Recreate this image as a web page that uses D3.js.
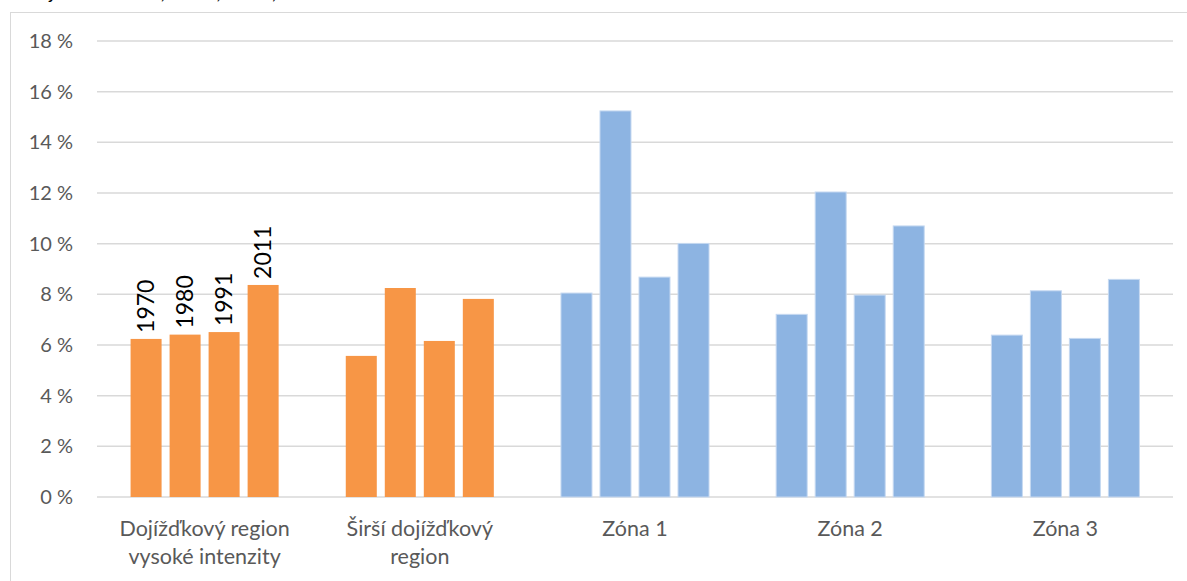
<!DOCTYPE html>
<html>
<head>
<meta charset="utf-8">
<script src="https://cdn.jsdelivr.net/npm/d3@7"></script>
<style>
  body { margin: 0; background: #fff; }
  svg { display: block; font-family: Lato, "Open Sans", sans-serif; }
</style>
</head>
<body>
<svg width="1187" height="581"></svg>
<script>
// data (percent)
var categories = ["Dojížďkový region\nvysoké intenzity", "Širší dojížďkový\nregion", "Zóna 1", "Zóna 2", "Zóna 3"];
var years = ["1970", "1980", "1991", "2011"];
var values = [
    [6.24, 6.41, 6.51, 8.37],
    [5.57, 8.25, 6.16, 7.82],
    [8.05, 15.24, 8.68, 10.01],
    [7.21, 12.04, 7.97, 10.70],
    [6.39, 8.14, 6.26, 8.59]
];
var groupColors = ["#F79646", "#F79646", "#8DB4E2", "#8DB4E2", "#8DB4E2"];
var yTicks = [0, 2, 4, 6, 8, 10, 12, 14, 16, 18];

var svg = d3.select("svg");

// cut-off source line at the very top
svg.append("text")
    .attr("x", 12).attr("y", -1.5)
    .attr("font-size", 20)
    .attr("font-style", "italic")
    .attr("fill", "#000")
    .text("Zdroj: SLDB 1970, 1980, 1991, 2011");

// chart frame
svg.append("rect")
    .attr("x", 10.5).attr("y", 12.5)
    .attr("width", 1190).attr("height", 600)
    .attr("fill", "none")
    .attr("stroke", "#D9D9D9")
    .attr("stroke-width", 1);

var x0 = d3.scaleBand()
    .domain(d3.range(categories.length))
    .range([97, 1173])
    .paddingInner(0.312)
    .paddingOuter(0.156);

var x1 = d3.scaleBand()
    .domain(years)
    .range([0, x0.bandwidth()])
    .paddingInner(0.205);

var y = d3.scaleLinear()
    .domain([0, 18])
    .range([497, 41]);

// gridlines
svg.append("g").selectAll("line")
    .data(yTicks)
    .enter().append("line")
    .attr("x1", 97).attr("x2", 1173)
    .attr("y1", function(d) { return y(d); })
    .attr("y2", function(d) { return y(d); })
    .attr("stroke", "#D9D9D9")
    .attr("stroke-width", 1.5);

// y axis labels
svg.append("g").selectAll("text")
    .data(yTicks)
    .enter().append("text")
    .attr("x", 73)
    .attr("y", function(d) { return y(d); })
    .attr("dy", "0.35em")
    .attr("text-anchor", "end")
    .attr("font-size", 20)
    .attr("fill", "#595959")
    .text(function(d) { return d + "\u00a0%"; });

// bars
var group = svg.append("g").selectAll("g")
    .data(values)
    .enter().append("g")
    .attr("transform", function(d, i) { return "translate(" + x0(i) + ",0)"; });

group.selectAll("rect")
    .data(function(d, i) { return d.map(function(v, j) { return {v: v, year: years[j], g: i}; }); })
    .enter().append("rect")
    .attr("x", function(d) { return x1(d.year); })
    .attr("y", function(d) { return y(d.v); })
    .attr("width", x1.bandwidth())
    .attr("height", function(d) { return y(0) - y(d.v); })
    .attr("fill", function(d) { return groupColors[d.g]; })
    .attr("stroke", function(d) { return d.g > 1 ? "#C6D9F1" : "none"; })
    .attr("stroke-width", 1);

// year labels above first group
svg.append("g").selectAll("text")
    .data(values[0])
    .enter().append("text")
    .attr("transform", function(d, j) {
        var cx = x0(0) + x1(years[j]) + x1.bandwidth() / 2;
        return "translate(" + cx + "," + (y(d) - 6) + ") rotate(-90)";
    })
    .attr("dy", "0.36em")
    .attr("font-size", 23)
    .attr("fill", "#000")
    .text(function(d, j) { return years[j]; });

// category labels
svg.append("g").selectAll("text")
    .data(categories)
    .enter().append("text")
    .attr("x", function(d, i) { return x0(i) + x0.bandwidth() / 2; })
    .attr("y", 536)
    .attr("text-anchor", "middle")
    .attr("font-size", 21.5)
    .attr("fill", "#595959")
    .each(function(d) {
        var t = d3.select(this);
        d.split("\n").forEach(function(line, k) {
            t.append("tspan")
                .attr("x", t.attr("x"))
                .attr("dy", k ? 28 : 0)
                .text(line);
        });
    });
</script>
</body>
</html>
